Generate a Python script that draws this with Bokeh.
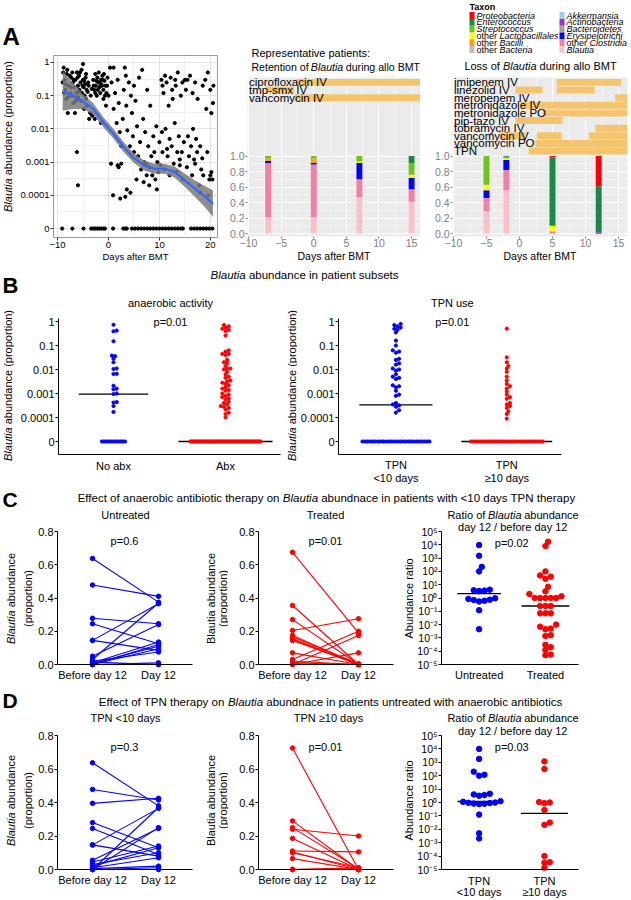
import math
import numpy as np
from bokeh.plotting import figure
from bokeh.models import Range1d, FixedTicker, Label, NumeralTickFormatter
from bokeh.layouts import row, column
from bokeh.core.properties import value
from bokeh.embed import file_html
from bokeh.resources import INLINE

FONT = "Liberation Sans"
N, I = "normal", "italic"

# ======================= DATA =======================
# Panel A (left): Blautia abundance (proportion) vs days after BMT
a1_days = [
    -9.0, -8.9, -8.8, -8.7, -8.6, -8.5, -8.4, -8.3, -8.2, -8.1, -8.0, -7.9, -7.8, -7.6, -7.5,
    -7.4, -7.3, -7.2, -7.1, -7.0, -6.9, -6.8, -6.7, -6.6, -6.5, -6.4, -6.3, -6.2, -6.2, -6.1,
    -6.0, -6.0, -6.0, -5.9, -5.8, -5.7, -5.6, -5.5, -5.4, -5.3, -5.2, -5.1, -5.0, -5.0, -4.9,
    -4.8, -4.8, -4.7, -4.6, -4.5, -4.4, -4.4, -4.3, -4.2, -4.1, -4.0, -3.9, -3.8, -3.6, -3.5,
    -3.3, -3.2, -3.0, -2.9, -2.8, -2.7, -2.6, -2.6, -2.5, -2.4, -2.3, -2.2, -2.1, -2.0, -1.9,
    -1.8, -1.7, -1.6, -1.5, -1.5, -1.4, -1.3, -1.2, -1.1, -1.0, -1.0, -0.9, -0.8, -0.7, -0.6,
    -0.5, -0.4, -0.3, -0.2, 0.0,
    0.3, 0.5, 0.6, 0.9, 1.0, 1.0, 1.3, 1.6, 1.8, 1.8, 2.0, 2.0, 2.2, 2.3, 2.5,
    2.5, 2.8, 3.0, 3.2, 3.3, 3.4, 3.5, 3.6, 3.7, 4.0, 4.2, 4.3, 4.4, 4.6, 4.8,
    5.0, 5.0,
    5.3, 5.5, 5.6, 5.8, 6.0, 6.2, 6.4, 6.6, 6.8, 6.9, 7.0, 7.2, 7.4, 7.5, 7.6,
    7.8, 8.0, 8.0, 8.2, 8.4, 8.6, 8.8, 9.0, 9.2, 9.4, 9.5, 9.6, 9.8, 10.0,
    10.2, 10.4, 10.5, 10.6, 10.6, 10.8, 11.0, 11.1, 11.2, 11.4, 11.5, 11.6, 11.8, 12.0, 12.0,
    12.2, 12.4, 12.5, 12.6, 12.8, 13.0, 13.1, 13.2, 13.4, 13.5, 13.6, 13.8, 14.0, 14.0, 14.2,
    14.4, 14.5, 14.6, 14.8, 15.0,
    15.2, 15.4, 15.5, 15.6, 15.8, 16.0, 16.2, 16.4, 16.5, 16.6, 16.8, 17.0, 17.0, 17.2, 17.4,
    17.5, 17.8, 18.0, 18.0, 18.2, 18.4, 18.5, 18.6, 19.0, 19.2, 19.4, 19.5, 19.6, 19.8, 20.0,
    20.0, 20.2, 20.2, 20.4, 20.5, 20.6,
]
a1_props = [
    0.25, 0.5, 0.7, 0.12, 0.3, 0.15, 0.22, 0.08, 0.45, 0.6, 0.03, 0.09, 0.2, 0.4, 0.12,
    0.18, 0.35, 0.1, 0.5, 0.25, 0.06, 0.3, 0.18, 0.03, 0.3, 0.07, 0.12, 0.5, 0.002, 0.35,
    0.09, 0.2, 0.0002, 0.13, 0.4, 0.15, 0.5, 0.25, 0.07, 0.6, 0.12, 0.2, 0.9, 0.3, 0.18,
    0.04, 0.28, 0.1, 0.22, 0.35, 0.08, 0.45, 0.15, 0.05, 0.13, 0.25, 0.2, 0.02, 0.03, 0.1,
    0.16, 0.025, 0.3, 0.2, 0.15, 0.02, 0.45, 0.12, 0.2, 0.28, 0.1, 0.35, 0.15, 0.25, 0.5,
    0.18, 0.25, 0.12, 0.3, 0.015, 0.22, 0.2, 0.4, 0.3, 0.15, 0.08, 0.45, 0.28, 0.1, 0.2,
    0.05, 0.12, 0.2, 0.35, 0.1,
    0.7, 0.0009, 0.25, 0.0001, 0.7, 0.04, 0.12, 0.015, 0.3, 0.0008, 0.06, 0.0007, 0.008, 0.00008, 0.003,
    0.0009, 0.02, 0.15, 0.7, 0.00009, 0.4, 0.05, 0.00015, 0.009, 0.25, 0.003, 0.00012, 0.1, 0.03, 0.006,
    0.2, 0.002,
    0.07, 0.0003, 0.012, 0.0015, 0.35, 0.004, 0.0006, 0.6, 0.02, 0.00025, 0.001, 0.008, 0.0009, 0.0004, 0.15,
    0.003, 0.0007, 0.0002, 0.05, 0.0015, 0.0004, 0.006, 0.002, 0.0003, 0.012, 0.00015, 0.001, 0.0005, 0.004,
    0.0008, 0.3, 0.008, 0.002, 0.2, 0.12, 0.0006, 0.4, 0.01, 0.25, 0.0025, 0.0015, 0.05, 0.0004, 0.005,
    0.35, 0.003, 0.15, 0.08, 0.0009, 0.015, 0.3, 0.2, 0.0005, 0.002, 0.5, 0.006, 0.0012, 0.0008, 0.1,
    0.002, 0.25, 0.0003, 0.004, 0.3,
    0.15, 0.0007, 0.3, 0.006, 0.0015, 0.4, 0.003, 0.0004, 0.12, 0.01, 0.0012, 0.0009, 0.25, 0.005, 0.002,
    0.08, 0.0002, 0.003, 0.00012, 0.0006, 0.0013, 0.2, 0.0004, 0.3, 0.04, 0.002, 0.5, 0.0001, 0.0003, 0.15,
    0.0004, 0.0005, 0.03, 0.0003, 0.06, 0.2,
]
a1_zero_days = [-9.1, -7.1, -4.9, -3.4, -3.0, -2.6, -2.2, -1.8, -1.4, -1.0, -0.7, 0.9, 2.9, 3.3,
                3.6, 4.6, 5.2, 5.8, 6.4, 7.0, 7.6, 8.2, 8.8, 9.4, 10.0, 10.6, 11.2, 11.8, 12.4,
                13.0, 13.6, 14.2, 14.6, 16.2, 16.8, 17.4, 18.0, 18.6, 19.2, 19.8, 20.4]
assert len(a1_days) == len(a1_props)

fit_days = [-9, -7, -5, -3, -1, 1, 3, 5, 7, 9, 11, 13, 15, 17, 19, 20.5]
fit_log10 = [-0.85, -1.0, -1.18, -1.4, -1.8, -2.15, -2.55, -2.88, -3.1, -3.2, -3.2, -3.3, -3.55, -3.8, -4.05, -4.25]
ci_low_log10 = [-1.45, -1.4, -1.4, -1.57, -1.95, -2.3, -2.7, -3.03, -3.25, -3.35, -3.35, -3.47, -3.75, -4.05, -4.37, -4.65]
ci_high_log10 = [-0.25, -0.6, -0.96, -1.23, -1.65, -2.0, -2.4, -2.73, -2.95, -3.05, -3.05, -3.13, -3.35, -3.55, -3.73, -3.85]

# Taxa (stack order bottom -> top)
taxa = ["Blautia", "other Clostridia", "Erysipelotrichi", "Bacteroidetes", "Actinobacteria",
        "Akkermansia", "other Bacteria", "other Bacilli", "other Lactobacillales",
        "Streptococcus", "Enterococcus", "Proteobacteria"]
taxon_colors = {
    "Blautia": "#FDC0CB", "other Clostridia": "#F37EA6", "Erysipelotrichi": "#0000FF",
    "Bacteroidetes": "#A4A28C", "Actinobacteria": "#A12BC6", "Akkermansia": "#8DD3EC",
    "other Bacteria": "#BDBDBD", "other Bacilli": "#F9A01B", "other Lactobacillales": "#FFFF00",
    "Streptococcus": "#6DC31C", "Enterococcus": "#17894A", "Proteobacteria": "#FF0000",
}

# Representative patient 1: retention of Blautia
ret_days = [-7, 0, 7, 15]
ret_comp = {
    "Blautia": [0.21, 0.21, 0.47, 0.41], "other Clostridia": [0.70, 0.68, 0.23, 0.16],
    "Erysipelotrichi": [0.03, 0.02, 0.21, 0.15], "Bacteroidetes": [0, 0, 0, 0],
    "Actinobacteria": [0, 0, 0, 0], "Akkermansia": [0, 0, 0, 0], "other Bacteria": [0, 0, 0, 0],
    "other Bacilli": [0.03, 0.06, 0, 0], "other Lactobacillales": [0, 0, 0.02, 0.04],
    "Streptococcus": [0.03, 0.03, 0.07, 0.15], "Enterococcus": [0, 0, 0, 0.09],
    "Proteobacteria": [0, 0, 0, 0],
}
ret_abx = ["ciprofloxacin IV", "tmp-smx IV", "vancomycin IV"]
ret_abx_row = [0, 1, 2]
ret_abx_start = [-2.6, -7.4, -2.9]
ret_abx_end = [16.4, -3.0, 16.4]

# Representative patient 2: loss of Blautia
loss_days = [-5, -2, 5, 12]
loss_comp = {
    "Blautia": [0.29, 0.56, 0.0, 0.0], "other Clostridia": [0.17, 0.26, 0.02, 0.0],
    "Erysipelotrichi": [0.10, 0.13, 0.0, 0.01], "Bacteroidetes": [0, 0, 0, 0],
    "Actinobacteria": [0, 0, 0.005, 0.01], "Akkermansia": [0, 0, 0, 0], "other Bacteria": [0, 0, 0, 0],
    "other Bacilli": [0, 0, 0, 0], "other Lactobacillales": [0.07, 0.02, 0.075, 0.0],
    "Streptococcus": [0.37, 0.02, 0.0, 0.0], "Enterococcus": [0, 0.01, 0.88, 0.59],
    "Proteobacteria": [0, 0, 0.02, 0.39],
}
loss_abx = ["imipenem IV", "linezolid IV", "meropenem IV", "metronidazole IV", "metronidazole PO",
            "pip-tazo IV", "tobramycin IV", "vancomycin IV", "vancomycin PO", "TPN"]
loss_abx_row = [0, 1, 1, 2, 3, 4, 5, 6, 7, 7, 7, 8, 9]
loss_abx_start = [5.6, -0.6, 5.6, 14.5, 0.2, 3.5, -0.6, 11.5, -3.0, 2.6, 10.5, 2.4, 1.4]
loss_abx_end = [15.4, 3.5, 11.4, 16.4, 16.4, 16.4, 6.5, 16.4, 0.9, 6.4, 16.4, 16.4, 16.4]

# Panel B: Blautia abundance in patient subsets
b_noabx = [0.73, 0.42, 0.39, 0.15, 0.038, 0.036, 0.028, 0.02, 0.011, 0.0105, 0.0066, 0.0065,
           0.0021, 0.0016, 0.0015, 0.001, 0.00095, 0.00044, 0.00042, 0.0003, 0.00017] + [0.0] * 12
b_abx = [0.71, 0.63, 0.56, 0.5, 0.45, 0.4, 0.26, 0.063, 0.056, 0.045, 0.045, 0.04, 0.025, 0.02,
         0.018, 0.011, 0.011, 0.01, 0.0063, 0.005, 0.0045, 0.0035, 0.0028, 0.0025, 0.0022, 0.0018,
         0.0014, 0.0013, 0.001, 0.0009, 0.0007, 0.00063, 0.00056, 0.00045, 0.0004, 0.00035, 0.00028,
         0.00025, 0.00022, 0.00016, 0.00014, 0.0001, 0.0032, 0.008, 0.014, 0.0008, 0.0016, 0.0003] + [0.0] * 55
b_tpn_short = [0.79, 0.71, 0.63, 0.56, 0.5, 0.45, 0.35, 0.16, 0.1, 0.063, 0.056, 0.05, 0.028, 0.025,
               0.018, 0.016, 0.011, 0.01, 0.009, 0.0063, 0.005, 0.0045, 0.004, 0.0022, 0.002, 0.0018,
               0.0013, 0.0009, 0.0008, 0.0004, 0.00035, 0.00032, 0.00028, 0.0002, 0.00016] + [0.0] * 27
b_tpn_long = [0.5, 0.032, 0.02, 0.014, 0.011, 0.008, 0.005, 0.0035, 0.0025, 0.002, 0.0016, 0.0012,
              0.0009, 0.0007, 0.0006, 0.0004, 0.00035, 0.0003, 0.00025, 0.00018, 0.00014, 0.00009] + [0.0] * 30

# Panel C: anaerobic antibiotics (patients with <10 days TPN)
c_untreated_before = [0.638, 0.478, 0.278, 0.245, 0.145, 0.145, 0.05, 0.01, 0.005, 0.0, 0.02, 0.0, 0.0, 0.03, 0.0, 0.015]
c_untreated_after = [0.375, 0.41, 0.245, 0.125, 0.365, 0.085, 0.24, 0.135, 0.11, 0.095, 0.075, 0.01, 0.0, 0.37, 0.12, 0.0]
c_treated_before = [0.675, 0.355, 0.27, 0.205, 0.175, 0.165, 0.155, 0.15, 0.145, 0.07, 0.03, 0.0, 0.02, 0.0, 0.01, 0.0]
c_treated_after = [0.19, 0.0, 0.0, 0.275, 0.0, 0.005, 0.0, 0.0, 0.0, 0.0, 0.2, 0.07, 0.0, 0.175, 0.0, 0.0]
c_ratio_untreated = [9500, 1500, 220, 100, 4.2, 3.6, 3.3, 3.8, 0.85, 0.62, 0.55, 0.7, 0.75, 0.95, 0.12, 0.0045]
c_ratio_treated = [17000, 8000, 100, 50, 40, 28, 7, 3.2, 2.0, 1.35, 1.0, 1.0, 1.0, 1.0, 1.0, 0.25, 0.25,
                   0.25, 0.07, 0.07, 0.07, 0.01, 0.007, 0.005, 0.0045, 0.0016, 0.0014, 0.0003, 0.0002,
                   0.000125, 0.000056, 0.00005]

# Panel D: TPN (patients untreated with anaerobic antibiotics)
d_short_before = [0.637, 0.478, 0.395, 0.28, 0.245, 0.147, 0.147, 0.055, 0.045, 0.03, 0.02, 0.01, 0.005, 0.0, 0.0, 0.0, 0.0]
d_short_after = [0.38, 0.415, 0.425, 0.13, 0.09, 0.365, 0.08, 0.245, 0.14, 0.1, 0.13, 0.07, 0.02, 0.01, 0.25, 0.0, 0.37]
d_long_before = [0.725, 0.29, 0.25, 0.24, 0.185, 0.11, 0.1, 0.065, 0.105, 0.0, 0.0, 0.0]
d_long_after = [0.0, 0.0, 0.005, 0.2, 0.0, 0.105, 0.01, 0.0, 0.0, 0.0, 0.01, 0.005]
d_ratio_short = [10000, 1800, 200, 117, 100, 4.5, 3.6, 3.2, 4.0, 1.12, 0.9, 0.8, 0.76, 0.83, 0.95, 1.0, 1.26, 0.125, 0.005, 0.0021]
d_ratio_long = [1170, 316, 1.0, 0.9, 1.07, 0.275, 0.0316, 0.0214, 0.0001, 0.000035, 0.000032, 0.0000135]

# ======================= HELPERS =======================
EM = {" ": 0.278, "!": 0.278, "(": 0.333, ")": 0.333, ",": 0.278, "-": 0.333, ".": 0.278,
      "/": 0.278, ":": 0.278, "<": 0.584, "=": 0.584, "\u2265": 0.549}
for ch in "0123456789":
    EM[ch] = 0.556
EM.update(dict(A=0.667, B=0.667, C=0.722, D=0.722, E=0.667, F=0.611, G=0.778, H=0.722, I=0.278,
               J=0.5, K=0.667, L=0.556, M=0.833, N=0.722, O=0.778, P=0.667, Q=0.778, R=0.722,
               S=0.667, T=0.611, U=0.722, V=0.667, W=0.944, X=0.667, Y=0.667, Z=0.611))
EM.update(dict(a=0.556, b=0.556, c=0.5, d=0.556, e=0.556, f=0.278, g=0.556, h=0.556, i=0.222,
               j=0.222, k=0.5, l=0.222, m=0.833, n=0.556, o=0.556, p=0.556, q=0.556, r=0.333,
               s=0.5, t=0.278, u=0.556, v=0.5, w=0.722, x=0.5, y=0.5, z=0.5))


def tw(s, size):
    return sum(EM.get(ch, 0.556) for ch in s) * size


def lin(p1, v1, p2, v2, p):
    return v1 + (p - p1) * (v2 - v1) / (p2 - p1)


class Panel:
    """A figure whose canvas and frame are given in page pixel coordinates."""
    def __init__(self, canvas, frame=None, xr=None, yr=None):
        if frame is None:
            frame = canvas
        plain = xr is None
        if plain:
            xr = (frame[0], frame[2])
            yr = (frame[3], frame[1])
        self.c, self.f, self.xr, self.yr = canvas, frame, xr, yr
        cx0, cy0, cx1, cy1 = canvas
        fx0, fy0, fx1, fy1 = frame
        kw = dict(x_axis_type=None, y_axis_type=None) if plain else {}
        p = figure(width=cx1 - cx0, height=cy1 - cy0, x_range=Range1d(*xr), y_range=Range1d(*yr),
                   output_backend="svg", toolbar_location=None, title=None,
                   min_border_left=fx0 - cx0, min_border_right=cx1 - fx1,
                   min_border_top=fy0 - cy0, min_border_bottom=cy1 - fy1, **kw)
        p.outline_line_color = None
        p.background_fill_color = "white"
        p.border_fill_color = "white"
        self.p = p

    def sx(self):
        return (self.f[2] - self.f[0]) / (self.xr[1] - self.xr[0])

    def sy(self):
        return (self.f[3] - self.f[1]) / (self.yr[1] - self.yr[0])

    def d(self, px, py):
        fx0, fy0, fx1, fy1 = self.f
        x = self.xr[0] + (px - fx0) / (fx1 - fx0) * (self.xr[1] - self.xr[0])
        y = self.yr[1] - (py - fy0) / (fy1 - fy0) * (self.yr[1] - self.yr[0])
        return x, y

    def text(self, px, py, s, size=11, align="center", style="normal", color="black", angle=0.0):
        x, y = self.d(px, py)
        self.p.add_layout(Label(x=x, y=y, text=s, text_font=FONT, text_font_size=f"{size}px",
                                text_font_style=style, text_color=color, text_align=align,
                                text_baseline="middle", angle=angle))


def rich(P, px, py, segs, size=11, align="center", vertical=False, color="black"):
    items, pos = [], 0.0
    for s, st in segs:
        core = s.strip(" ")
        lead = len(s) - len(s.lstrip(" "))
        trail = len(s) - len(s.rstrip(" ")) if core else 0
        pos += lead * EM[" "] * size
        items.append((pos, core, st))
        pos += tw(core, size) + trail * EM[" "] * size
    start = {"center": -pos / 2, "left": 0.0, "right": -pos}[align]
    for off, core, st in items:
        if not core:
            continue
        if vertical:
            P.text(px, py - start - off, core, size, "left", st, color, angle=math.pi / 2)
        else:
            P.text(px + start + off, py, core, size, "left", st, color)


def logy(v):
    return math.log10(v) if v > 0 else -5.0


def swarm(y, ypx, xpx, d):
    order = np.argsort(y, kind="stable")
    placed, offs = [], np.zeros(len(y))
    for i in order:
        yy = y[i] * ypx
        k = 0
        while True:
            cands = [0.0] if k == 0 else [k * d / 2, -k * d / 2]
            ok = None
            for c in cands:
                if all((c - ox) ** 2 + (yy - oy) ** 2 >= (0.92 * d) ** 2 for ox, oy in placed):
                    ok = c
                    break
            if ok is not None:
                break
            k += 1
        placed.append((ok, yy))
        offs[i] = ok / xpx
    return offs


def dot_column(P, xc, vals, color, size, d, zero_gap, med_half):
    ys = np.array([logy(v) for v in vals])
    nz = ys > -5.0
    offs = np.zeros(len(ys))
    idx = np.where(nz)[0]
    offs[idx] = swarm(ys[idx], P.sy(), P.sx(), d)
    zidx = np.where(~nz)[0]
    offs[zidx] = (np.arange(len(zidx)) - (len(zidx) - 1) / 2) * zero_gap / P.sx()
    my = logy(float(np.median(vals)))
    P.p.segment(x0=[xc - med_half], y0=[my], x1=[xc + med_half], y1=[my], line_color="black", line_width=1.3)
    P.p.scatter(xc + offs, ys, size=size, color=color)


def paired(P, before, after, color):
    P.p.multi_line([[1, 2] for _ in before], [[b, a] for b, a in zip(before, after)],
                   line_color=color, line_width=1.1)
    P.p.scatter([1] * len(before), before, size=4.5, color=color)
    P.p.scatter([2] * len(after), after, size=4.5, color=color)


def prism(P, yticks, ybounds, xfixed, xright, overrides=None, fmt=None, size="11px"):
    p = P.p
    p.grid.visible = False
    p.xaxis.ticker = FixedTicker(ticks=[])
    p.yaxis.ticker = FixedTicker(ticks=yticks)
    for ax in (p.xaxis[0], p.yaxis[0]):
        ax.axis_line_color = "black"
        ax.axis_line_width = 1
        ax.major_tick_in = 0
        ax.major_tick_out = 3
        ax.minor_tick_in = 0
        ax.minor_tick_out = 0
        ax.major_tick_line_color = "black"
        ax.major_label_text_font = FONT
        ax.major_label_text_font_size = size
        ax.major_label_text_color = "black"
        ax.major_label_standoff = 1
    p.xaxis[0].major_tick_out = 0
    p.xaxis[0].major_label_standoff = 0
    if overrides:
        p.yaxis.major_label_overrides = overrides
    if fmt:
        p.yaxis.formatter = NumeralTickFormatter(format=fmt)
    p.yaxis.bounds = ybounds
    p.xaxis.fixed_location = xfixed
    p.xaxis.bounds = (P.xr[0], xright)


def gray_theme(P):
    p = P.p
    p.background_fill_color = "#EBEBEB"
    p.xaxis.ticker = FixedTicker(ticks=[-10, -5, 0, 5, 10, 15], minor_ticks=[-7.5, -2.5, 2.5, 7.5, 12.5])
    p.yaxis.ticker = FixedTicker(ticks=[0, 0.2, 0.4, 0.6, 0.8, 1.0], minor_ticks=[0.1, 0.3, 0.5, 0.7, 0.9])
    p.yaxis.formatter = NumeralTickFormatter(format="0.0")
    p.grid.grid_line_color = "white"
    p.grid.grid_line_width = 1.1
    p.grid.minor_grid_line_color = "white"
    p.grid.minor_grid_line_width = 0.5
    for ax in (p.xaxis[0], p.yaxis[0]):
        ax.axis_line_color = None
        ax.major_tick_in = 0
        ax.major_tick_out = 2
        ax.minor_tick_in = 0
        ax.minor_tick_out = 0
        ax.major_tick_line_color = "#808080"
        ax.major_label_text_font = FONT
        ax.major_label_text_font_size = "10.5px"
        ax.major_label_text_color = "#808080"
        ax.major_label_standoff = 1
    p.xaxis.major_label_standoff = 0
    p.xaxis.axis_label = "Days after BMT"
    p.xaxis.axis_label_text_font = FONT
    p.xaxis.axis_label_text_font_size = "10.5px"
    p.xaxis.axis_label_text_font_style = "normal"
    p.xaxis.axis_label_text_color = "black"
    p.xaxis.axis_label_standoff = 0


def stacked(P, days, comp):
    bottom = np.zeros(len(days))
    for t in taxa:
        frac = np.array(comp[t], dtype=float)
        if frac.sum() > 0:
            P.p.vbar(x=days, width=0.9, bottom=bottom, top=bottom + frac,
                     fill_color=taxon_colors[t], line_color=None)
        bottom = bottom + frac


def abx_bars(P, names, rows, starts, ends, text_px):
    ys = [1.95 - 0.0985 * i for i in range(len(names))]
    P.p.hbar(y=[ys[r] for r in rows], left=starts, right=ends, height=0.09,
             fill_color="#F6C46F", line_color=None)
    x0 = P.d(text_px, 0)[0]
    P.p.text(x=[x0] * len(names), y=ys, text=names, text_font=value(FONT),
             text_font_size=value("11.5px"), text_baseline="middle", text_align="left",
             text_color="black")


# ======================= PANEL A (y 0-264) =======================
A1top = Panel((0, 0, 226, 55))
A1top.text(2, 36, "A", 24, "left", "bold")
# strip aligned with A1's borders (top 0, bottom 27)
A1y = Panel((0, 55, 14, 264), (0, 55, 14, 237))
rich(A1y, 7, 136, [("Blautia", I), (" abundance (proportion)", N)], 11, vertical=True)

A1 = Panel((14, 55, 226, 264), (53, 55, 217, 237), (-10.8, 21.4), (-5.27, 0.21))
p = A1.p
p.outline_line_color = "#9A9A9A"
p.xaxis.ticker = FixedTicker(ticks=[-10, 0, 10, 20], minor_ticks=[-5, 5, 15])
p.yaxis.ticker = FixedTicker(ticks=[-5, -4, -3, -2, -1, 0], minor_ticks=[-4.5, -3.5, -2.5, -1.5, -0.5])
p.yaxis.major_label_overrides = {0: "1", -1: "0.1", -2: "0.01", -3: "0.001", -4: "0.0001", -5: "0"}
p.grid.grid_line_color = "#E3E3E3"
p.grid.minor_grid_line_color = "#F1F1F1"
for ax in (p.xaxis[0], p.yaxis[0]):
    ax.axis_line_color = None
    ax.major_tick_in = 0
    ax.major_tick_out = 3
    ax.minor_tick_in = 0
    ax.minor_tick_out = 0
    ax.major_tick_line_color = "#333333"
    ax.major_label_text_font = FONT
    ax.major_label_text_font_size = "9.5px"
    ax.major_label_text_color = "black"
    ax.major_label_standoff = 1
p.xaxis.axis_label = "Days after BMT"
p.xaxis.axis_label_text_font = FONT
p.xaxis.axis_label_text_font_size = "9.5px"
p.xaxis.axis_label_text_font_style = "normal"
p.xaxis.axis_label_text_color = "black"
p.xaxis.axis_label_standoff = 0
p.scatter(a1_days, [logy(v) for v in a1_props], size=3.2, color="black")
p.scatter(a1_zero_days, [logy(0.0) for _ in a1_zero_days], size=3.2, color="black")
p.varea(x=fit_days, y1=ci_low_log10, y2=ci_high_log10, fill_color="#7A7A7A", fill_alpha=0.85)
p.line(fit_days, fit_log10, line_color="#3366FF", line_width=2.2)

# strip aligned with A2's borders (left 19, right 0)
A2top = Panel((226, 0, 420, 77), (245, 0, 420, 77))
A2top.text(249, 52, "Representative patients:", 11, "left")
rich(A2top, 249, 66, [("Retention of ", N), ("Blautia", I), (" during allo BMT", N)], 10.6, "left")
A2 = Panel((226, 77, 420, 264), (245, 77, 420, 239),
           (lin(312, 0, 345, 5, 245), lin(312, 0, 345, 5, 420)), (-0.038, 2.013))
gray_theme(A2)
stacked(A2, ret_days, ret_comp)
abx_bars(A2, ret_abx, ret_abx_row, ret_abx_start, ret_abx_end, 246.5)

# strip aligned with A3's borders (left 32, right 4)
A3top = Panel((420, 0, 631, 77), (452, 0, 627, 77))
A3top.text(469, 6, "Taxon", 9, "left", "bold")
for i, t in enumerate(list(reversed(taxa))):
    colno, r = divmod(i, 6)
    lx = [469, 559][colno]
    ly = 15 + r * 6.8
    A3top.p.rect(x=[lx + 2.5], y=[ly], width=5, height=6.8, fill_color=taxon_colors[t], line_color=None)
    if t.startswith("other "):
        segs = [("other ", N), (t[6:], I)]
    else:
        segs = [(t, I)]
    rich(A3top, lx + 7, ly, segs, 9, "left")
rich(A3top, 540, 65, [("Loss of ", N), ("Blautia", I), (" during allo BMT", N)], 11)
A3 = Panel((420, 77, 631, 264), (452, 77, 627, 239),
           (lin(519, 0, 552, 5, 452), lin(519, 0, 552, 5, 627)), (-0.038, 2.013))
gray_theme(A3)
stacked(A3, loss_days, loss_comp)
abx_bars(A3, loss_abx, loss_abx_row, loss_abx_start, loss_abx_end, 453.5)

# ======================= PANEL B (y 264-487) =======================
LOG_OVR = {0: "1", -1: "0.1", -2: "0.01", -3: "0.001", -4: "0.0001", -5: "0"}
SB = Panel((0, 264, 631, 296))
SB.text(2, 284.5, "B", 22, "left", "bold")
rich(SB, 304, 274, [("Blautia", I), (" abundance in patient subsets", N)], 11.5)


def b_panel(canvas, frame, x1px, x2px, xright):
    fx0, fy0, fx1, fy1 = frame
    xr = (lin(x1px, 1, x2px, 2, fx0), lin(x1px, 1, x2px, 2, fx1))
    yr = (lin(441, -5, 321, 0, fy1), lin(441, -5, 321, 0, fy0))
    P = Panel(canvas, frame, xr, yr)
    prism(P, [-5, -4, -3, -2, -1, 0], (lin(441, -5, 321, 0, 454), lin(441, -5, 321, 0, 318)),
          lin(441, -5, 321, 0, 454), lin(x1px, 1, x2px, 2, xright), overrides=LOG_OVR)
    return P


B1y = Panel((0, 296, 14, 487))
rich(B1y, 7, 385, [("Blautia", I), (" abundance (proportion)", N)], 11, vertical=True)
B1 = b_panel((14, 296, 285, 487), (58, 296, 285, 487), 113, 225, 280)
dot_column(B1, 1, b_noabx, "#0000FF", 3.2, 3.2, 2.1, 0.31)
dot_column(B1, 2, b_abx, "#FF0000", 3.2, 3.2, 1.3, 0.42)
B1.text(170, 302, "anaerobic activity")
B1.text(170, 321, "p=0.01")
B1.text(113, 465, "No abx")
B1.text(225, 465, "Abx")

B2y = Panel((285, 296, 297, 487))
rich(B2y, 291, 385, [("Blautia", I), (" abundance (proportion)", N)], 11, vertical=True)
B2 = b_panel((297, 296, 631, 487), (335, 296, 631, 487), 393, 505, 560)
dot_column(B2, 1, b_tpn_short, "#0000FF", 3.2, 3.2, 2.6, 0.33)
dot_column(B2, 2, b_tpn_long, "#FF0000", 3.2, 3.2, 2.5, 0.41)
B2.text(450, 302, "TPN use")
B2.text(450, 321, "p=0.01")
B2.text(393, 464, "TPN")
B2.text(393, 477, "<10 days")
B2.text(505, 464, "TPN")
B2.text(505, 477, "\u226510 days")

# ======================= PANELS C & D =======================
SUP = str.maketrans("-0123456789", "\u207b\u2070\u00b9\u00b2\u00b3\u2074\u2075\u2076\u2077\u2078\u2079")
RATIO_OVR = {k: "10" + str(k).translate(SUP) for k in range(-5, 6)}


def pair_panel(canvas, frame, x1px, x2px, xright, y0px, y08px, before, after, color):
    fx0, fy0, fx1, fy1 = frame
    xr = (lin(x1px, 1, x2px, 2, fx0), lin(x1px, 1, x2px, 2, fx1))
    yr = (lin(y0px, 0, y08px, 0.8, fy1), lin(y0px, 0, y08px, 0.8, fy0))
    P = Panel(canvas, frame, xr, yr)
    prism(P, [0, 0.2, 0.4, 0.6, 0.8], (0, 0.8), 0, lin(x1px, 1, x2px, 2, xright), fmt="0.0")
    paired(P, before, after, color)
    return P


def ratio_panel(canvas, frame, x1px, x2px, xright, ym5px, y5px, vals1, vals2):
    fx0, fy0, fx1, fy1 = frame
    xr = (lin(x1px, 1, x2px, 2, fx0), lin(x1px, 1, x2px, 2, fx1))
    yr = (lin(ym5px, -5, y5px, 5, fy1), lin(ym5px, -5, y5px, 5, fy0))
    P = Panel(canvas, frame, xr, yr)
    prism(P, list(range(-5, 6)), (-5, 5), -5, lin(x1px, 1, x2px, 2, xright),
          overrides=RATIO_OVR, size="10.5px")
    dot_column(P, 1, vals1, "#0000FF", 5.5, 5.4, 5.4, 0.33)
    dot_column(P, 2, vals2, "#FF0000", 5.5, 5.4, 5.4, 0.36)
    return P


SC = Panel((0, 487, 631, 509))
SC.text(2, 498.5, "C", 21, "left", "bold")
rich(SC, 326, 497, [("Effect of anaerobic antibiotic therapy on ", N), ("Blautia", I),
                    (" abundnace in patients with <10 days TPN therapy", N)], 11.5)

C1y = Panel((0, 509, 34, 684))
rich(C1y, 10, 598, [("Blautia", I), (" abundance", N)], 11, vertical=True)
C1y.text(27, 598, "(proportion)", angle=math.pi / 2)
C1 = pair_panel((34, 509, 200, 684), (57, 509, 200, 684), 92, 158, 192, 664, 531,
                c_untreated_before, c_untreated_after, "#0000FF")
C1.text(125, 514, "Untreated")
C1.text(124, 540, "p=0.6")
C1.text(92, 674, "Before day 12")
C1.text(158, 674, "Day 12")

C2y = Panel((200, 509, 228, 684))
C2y.text(210, 598, "Blautia abundance", angle=math.pi / 2)
C2y.text(222, 598, "(proportion)", angle=math.pi / 2)
C2 = pair_panel((228, 509, 398, 684), (258, 509, 398, 684), 292, 358, 393, 664, 531,
                c_treated_before, c_treated_after, "#FF0000")
C2.text(325, 514, "Treated")
C2.text(325, 540, "p=0.01")
C2.text(292, 674, "Before day 12")
C2.text(358, 674, "Day 12")

C3y = Panel((398, 509, 414, 684))
C3y.text(408.5, 598, "Abundance ratio", angle=math.pi / 2)
C3 = ratio_panel((414, 509, 631, 684), (439, 509, 631, 684), 477, 544, 577, 664, 531,
                 c_ratio_untreated, c_ratio_treated)
rich(C3, 511, 514, [("Ratio of ", N), ("Blautia", I), (" abundance", N)], 11)
C3.text(511, 526, "day 12 / before day 12")
C3.text(510, 542, "p=0.02")
C3.text(477, 674, "Untreated")
C3.text(544, 674, "Treated")

SD = Panel((0, 684, 631, 711))
SD.text(2, 700, "D", 21, "left", "bold")
rich(SD, 330, 701, [("Effect of TPN therapy on ", N), ("Blautia", I),
                    (" abundnace in patients untreated with anaerobic antibiotics", N)], 11.5)

D1y = Panel((0, 711, 34, 900))
rich(D1y, 10, 800, [("Blautia", I), (" abundance", N)], 11, vertical=True)
D1y.text(27, 800, "(proportion)", angle=math.pi / 2)
D1 = pair_panel((34, 711, 200, 900), (57, 711, 200, 900), 92, 158, 192, 869, 735,
                d_short_before, d_short_after, "#0000FF")
D1.text(125, 717, "TPN <10 days")
D1.text(124, 746, "p=0.3")
D1.text(92, 879, "Before day 12")
D1.text(158, 879, "Day 12")

D2y = Panel((200, 711, 228, 900))
D2y.text(210, 800, "Blautia abundance", angle=math.pi / 2)
D2y.text(222, 800, "(proportion)", angle=math.pi / 2)
D2 = pair_panel((228, 711, 398, 900), (258, 711, 398, 900), 292, 358, 393, 869, 735,
                d_long_before, d_long_after, "#FF0000")
D2.text(328, 717, "TPN \u226510 days")
D2.text(325, 746, "p=0.01")
D2.text(292, 879, "Before day 12")
D2.text(358, 879, "Day 12")

D3y = Panel((398, 711, 414, 900))
D3y.text(408.5, 800, "Abundance ratio", angle=math.pi / 2)
D3 = ratio_panel((414, 711, 631, 900), (439, 711, 631, 900), 477, 543, 577, 869, 735,
                 d_ratio_short, d_ratio_long)
rich(D3, 511, 717, [("Ratio of ", N), ("Blautia", I), (" abundance", N)], 11)
D3.text(511, 730, "day 12 / before day 12")
D3.text(510, 746, "p=0.03")
D3.text(477, 880, "TPN")
D3.text(477, 891, "<10 days")
D3.text(543, 880, "TPN")
D3.text(543, 891, "\u226510 days")

# ======================= LAYOUT =======================
layout = column(
    row(column(A1top.p, row(A1y.p, A1.p)), column(A2top.p, A2.p), column(A3top.p, A3.p)),
    SB.p,
    row(B1y.p, B1.p, B2y.p, B2.p),
    SC.p,
    row(C1y.p, C1.p, C2y.p, C2.p, C3y.p, C3.p),
    SD.p,
    row(D1y.p, D1.p, D2y.p, D2.p, D3y.p, D3.p),
)

with open("out.html", "w", encoding="utf-8") as fh:
    fh.write(file_html(layout, INLINE, title="Blautia abundance"))
